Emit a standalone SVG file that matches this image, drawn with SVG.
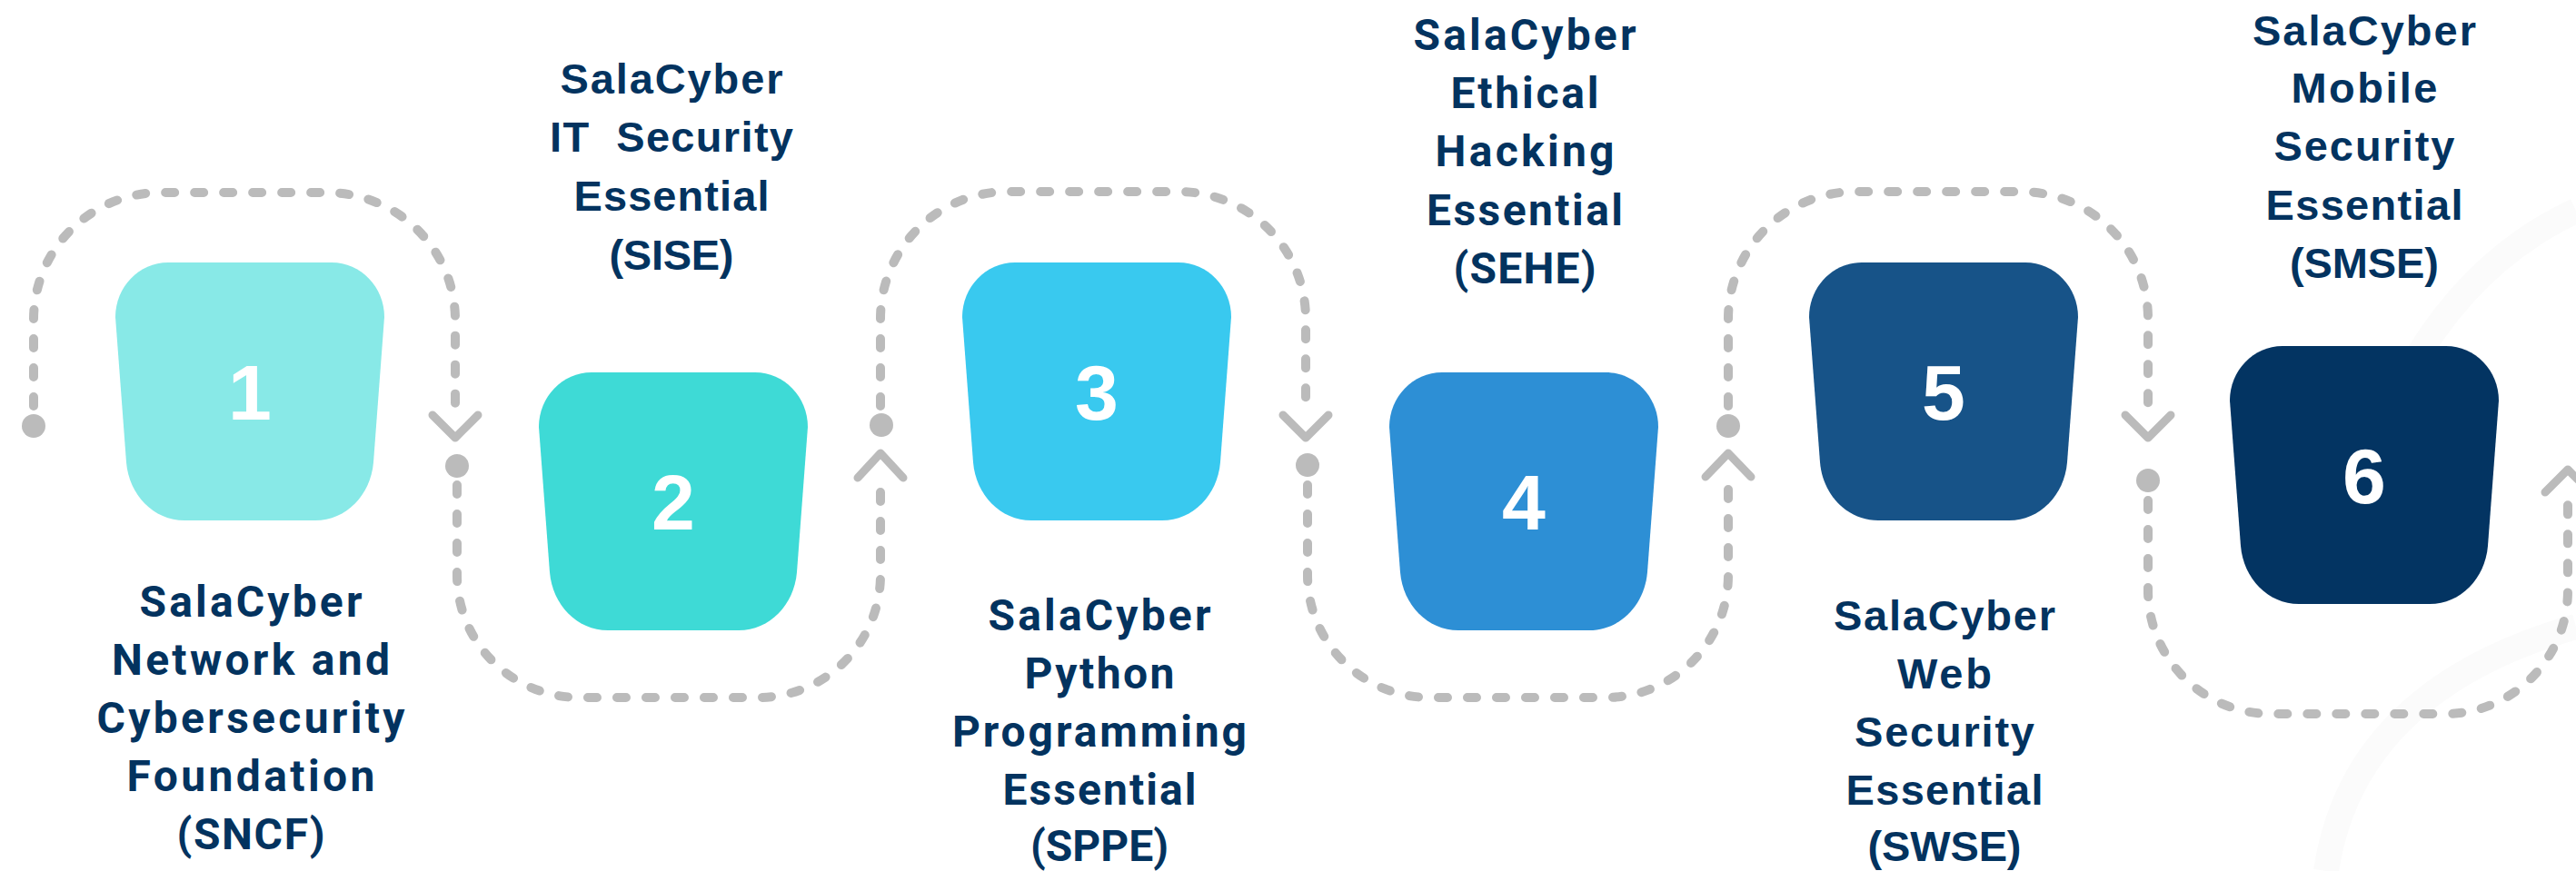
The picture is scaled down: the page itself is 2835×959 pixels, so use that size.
<svg xmlns="http://www.w3.org/2000/svg" xmlns:xlink="http://www.w3.org/1999/xlink" width="2835" height="959" viewBox="0 0 2835 959">
<style>
.lr{font-family:Roboto,"Liberation Sans",Arial,sans-serif;font-weight:700;font-size:48px;fill:#03335F;text-anchor:middle}
.la{font-family:"Liberation Sans",Arial,sans-serif;font-weight:700;font-size:47px;fill:#03335F;text-anchor:middle}
.num{font-family:"Liberation Sans",Arial,sans-serif;font-weight:700;font-size:86px;fill:#FFFFFF;text-anchor:middle}
.dash{fill:none;stroke:#BBBBBB;stroke-width:10;stroke-linecap:round;stroke-linejoin:round;stroke-dasharray:10 22}
.chev{fill:none;stroke:#BBBBBB;stroke-width:9;stroke-linecap:round;stroke-linejoin:round}
.dot{fill:#BBBBBB}
.bg{fill:none;stroke:#FBFBFB;stroke-width:28}
</style>
<defs>
<path id="blob" d="M58,0 H238 C270,0 296,27 296,60 L284,220 C281,256 254,284 220,284 H76 C42,284 15,256 12,220 L0,60 C0,27 26,0 58,0 Z"/>
</defs>
<rect width="2835" height="959" fill="#FFFFFF"/>
<g id="background">
<path class="bg" d="M2650,410 Q2720,285 2835,232"/>
<path class="bg" d="M2560,959 Q2590,760 2835,690"/>
</g>
<g id="connectors">
<path class="dash" d="M37,447 L37,352 C37,274.7 99.7,212 177,212 L360,212 C437.3,212 501,274.7 501,352 L501,453"/>
<path class="dash" d="M503,534 L503,633 C503,707.6 563.4,768 638,768 L834,768 C908.6,768 969,707.6 969,633 L969,533"/>
<path class="dash" d="M969,447 L969,351 C969,273.7 1031.7,211 1109,211 L1297,211 C1374.3,211 1437,273.7 1437,351 L1437,453"/>
<path class="dash" d="M1439,534 L1439,633 C1439,707.6 1499.4,768 1574,768 L1767,768 C1841.6,768 1902,707.6 1902,633 L1902,533"/>
<path class="dash" d="M1902,447 L1902,351 C1902,273.7 1964.7,211 2042,211 L2224,211 C2301.3,211 2364,273.7 2364,351 L2364,453"/>
<path class="dash" d="M2364,551 L2364,650 C2364,724.6 2424.4,786 2499,786 L2691,786 C2765.6,786 2826,724.6 2826,650 L2826,550"/>
<path class="chev" d="M476,457 L501,482 L526,457"/>
<path class="chev" d="M944,526 L969,499 L994,526"/>
<path class="chev" d="M1412,457 L1437,482 L1462,457"/>
<path class="chev" d="M1877,525 L1902,499 L1927,525"/>
<path class="chev" d="M2339,457 L2364,482 L2389,457"/>
<path class="chev" d="M2801,542 L2826,517 L2851,542"/>
<circle class="dot" cx="37" cy="469" r="13"/>
<circle class="dot" cx="503" cy="513" r="13"/>
<circle class="dot" cx="970" cy="468" r="13"/>
<circle class="dot" cx="1439" cy="512" r="13"/>
<circle class="dot" cx="1902" cy="469" r="13"/>
<circle class="dot" cx="2364" cy="529" r="13"/>
</g>
<g id="node1">
<use xlink:href="#blob" href="#blob" x="127" y="289" fill="#88E9E7"/>
<text class="num" x="275" y="462">1</text>
<text class="lr" x="276" y="679" textLength="245" lengthAdjust="spacing">SalaCyber</text>
<text class="lr" x="276" y="743" textLength="306" lengthAdjust="spacing">Network and</text>
<text class="lr" x="276" y="807" textLength="339" lengthAdjust="spacing">Cybersecurity</text>
<text class="lr" x="276" y="871" textLength="273" lengthAdjust="spacing">Foundation</text>
<text class="lr" x="276" y="935" textLength="163" lengthAdjust="spacing">(SNCF)</text>
</g>
<g id="node2">
<use xlink:href="#blob" href="#blob" x="593" y="410" fill="#3EDAD6"/>
<text class="num" x="741" y="583">2</text>
<text class="la" x="739" y="103" textLength="245" lengthAdjust="spacing">SalaCyber</text>
<text class="la" x="739" y="167" textLength="268" lengthAdjust="spacing" xml:space="preserve" style="white-space:pre">IT  Security</text>
<text class="la" x="739" y="232" textLength="215" lengthAdjust="spacing">Essential</text>
<text class="la" x="739" y="297" textLength="137" lengthAdjust="spacing">(SISE)</text>
</g>
<g id="node3">
<use xlink:href="#blob" href="#blob" x="1059" y="289" fill="#39C9EF"/>
<text class="num" x="1207" y="462">3</text>
<text class="lr" x="1210" y="694" textLength="245" lengthAdjust="spacing">SalaCyber</text>
<text class="lr" x="1210" y="758" textLength="165" lengthAdjust="spacing">Python</text>
<text class="lr" x="1210" y="822" textLength="324" lengthAdjust="spacing">Programming</text>
<text class="lr" x="1210" y="886" textLength="213" lengthAdjust="spacing">Essential</text>
<text class="lr" x="1210" y="948" textLength="152" lengthAdjust="spacing">(SPPE)</text>
</g>
<g id="node4">
<use xlink:href="#blob" href="#blob" x="1529" y="410" fill="#2D8FD5"/>
<text class="num" x="1677" y="583">4</text>
<text class="lr" x="1678" y="55" textLength="245" lengthAdjust="spacing">SalaCyber</text>
<text class="lr" x="1678" y="119" textLength="163" lengthAdjust="spacing">Ethical</text>
<text class="lr" x="1678" y="183" textLength="197" lengthAdjust="spacing">Hacking</text>
<text class="lr" x="1678" y="248" textLength="216" lengthAdjust="spacing">Essential</text>
<text class="lr" x="1678" y="312" textLength="157" lengthAdjust="spacing">(SEHE)</text>
</g>
<g id="node5">
<use xlink:href="#blob" href="#blob" x="1991" y="289" fill="#175388"/>
<text class="num" x="2139" y="462">5</text>
<text class="la" x="2140" y="694" textLength="244" lengthAdjust="spacing">SalaCyber</text>
<text class="la" x="2140" y="758" textLength="104" lengthAdjust="spacing">Web</text>
<text class="la" x="2140" y="822" textLength="198" lengthAdjust="spacing">Security</text>
<text class="la" x="2140" y="886" textLength="217" lengthAdjust="spacing">Essential</text>
<text class="la" x="2140" y="948" textLength="169" lengthAdjust="spacing">(SWSE)</text>
</g>
<g id="node6">
<use xlink:href="#blob" href="#blob" x="2454" y="381" fill="#033462"/>
<text class="num" x="2602" y="554">6</text>
<text class="la" x="2602" y="50" textLength="246" lengthAdjust="spacing">SalaCyber</text>
<text class="la" x="2602" y="113" textLength="161" lengthAdjust="spacing">Mobile</text>
<text class="la" x="2602" y="177" textLength="199" lengthAdjust="spacing">Security</text>
<text class="la" x="2602" y="242" textLength="217" lengthAdjust="spacing">Essential</text>
<text class="la" x="2602" y="306" textLength="164" lengthAdjust="spacing">(SMSE)</text>
</g>
</svg>
